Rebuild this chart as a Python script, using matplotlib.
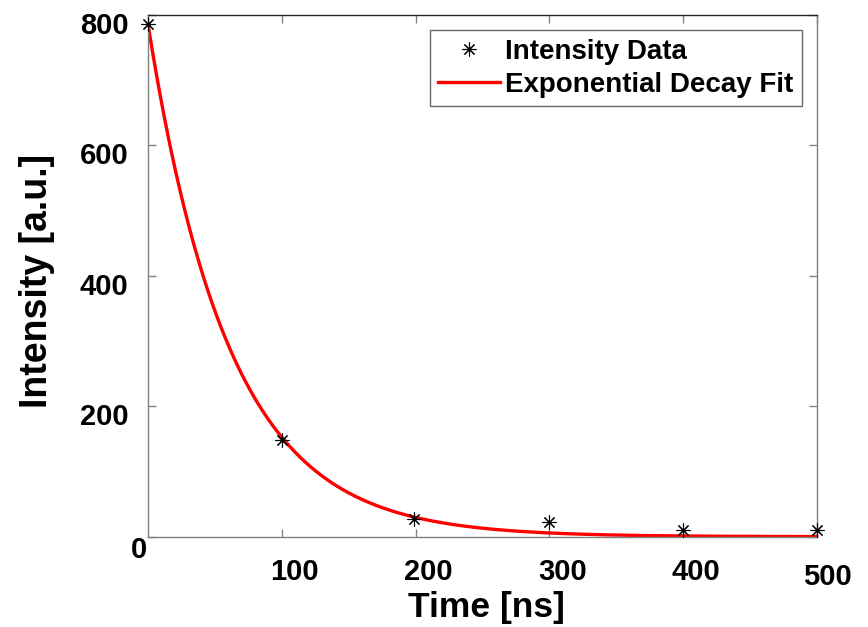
import numpy as np
import matplotlib
matplotlib.use("Agg")
import matplotlib.pyplot as plt
import matplotlib.transforms as mtransforms

plt.rcParams['font.family'] = ['Liberation Sans', 'DejaVu Sans']
plt.rcParams['font.weight'] = 'bold'

time_ns = [0, 100, 199, 300, 400, 500]
intensity = [786, 149, 27, 23, 11, 11]

# exponential decay fit parameters (estimated from the red curve)
fit_amp = 786
fit_tau = 61.0
fit_t = np.linspace(0, 500, 500)
fit_y = fit_amp * np.exp(-fit_t / fit_tau)

x_ticks = [100, 200, 300, 400, 500]
y_ticks = [0, 200, 400, 600, 800]

fig = plt.figure(figsize=(8.68, 6.27), dpi=100)
ax = fig.add_axes([0.1705, 0.144, 0.7707, 0.832])

ax.plot(time_ns, intensity, linestyle='none', marker=(8, 2, 0), color='black',
        markersize=10, markeredgewidth=0.8, label='Intensity Data', zorder=3,
        clip_on=False)
ax.plot(fit_t, fit_y, color='red', linewidth=2.4, label='Exponential Decay Fit')

ax.set_xlim(0, 500)
ax.set_ylim(0, 800)
ax.set_xticks(x_ticks)
ax.set_yticks(y_ticks)
ax.tick_params(direction='in', top=True, right=True, length=6, width=1,
               color='#808080', labelsize=21)
ax.tick_params(axis='x', pad=15)
ax.tick_params(axis='y', pad=14)

# MATLAB-style label placement: tick labels sit a bit right / below
dpi_tr = fig.dpi_scale_trans
def shift(lab, dx, dy):
    lab.set_transform(lab.get_transform() + mtransforms.ScaledTranslation(dx / 100, -dy / 100, dpi_tr))

xlabs = ax.get_xticklabels()
for lab in xlabs:
    lab.set_fontweight('bold')
    shift(lab, 13, 0)
shift(xlabs[-1], -3, 5)
ylabs = ax.get_yticklabels()
for lab in ylabs:
    lab.set_fontweight('bold')
    shift(lab, 0, 8)
shift(ylabs[0], 19, 2)

for name, s in ax.spines.items():
    s.set_color('#262626' if name == 'top' else '#808080')
    s.set_linewidth(1.0)

ax.set_xlabel('Time [ns]', fontsize=25.5, fontweight='bold')
ax.set_ylabel('Intensity [a.u.]', fontsize=27, fontweight='bold')
ax.xaxis.set_label_coords(0.506, -0.105)
ax.yaxis.set_label_coords(-0.139, 0.49)

leg = ax.legend(loc='upper right', fontsize=20, frameon=True, fancybox=False,
                edgecolor='#444444', borderaxespad=0.55, handlelength=2.2,
                handletextpad=0.2, labelspacing=0.25, borderpad=0.3)
leg.get_frame().set_linewidth(1.0)
for t in leg.get_texts():
    t.set_fontweight('bold')

fig.savefig('out.png', dpi=100)
